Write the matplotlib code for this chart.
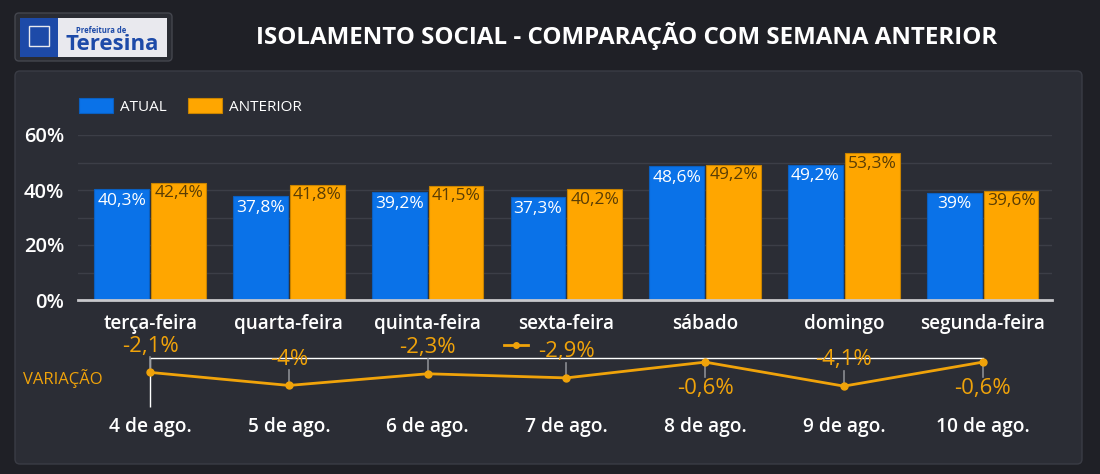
import numpy as np
import matplotlib.pyplot as plt
from matplotlib.patches import FancyBboxPatch, Rectangle
from matplotlib.lines import Line2D

plt.rcParams['font.family'] = ['Open Sans', 'DejaVu Sans']

# data
dias = ['terça-feira', 'quarta-feira', 'quinta-feira', 'sexta-feira', 'sábado', 'domingo', 'segunda-feira']
datas = ['4 de ago.', '5 de ago.', '6 de ago.', '7 de ago.', '8 de ago.', '9 de ago.', '10 de ago.']
atual = [40.3, 37.8, 39.2, 37.3, 48.6, 49.2, 39.0]
anterior = [42.4, 41.8, 41.5, 40.2, 49.2, 53.3, 39.6]
variacao = [-2.1, -4.0, -2.3, -2.9, -0.6, -4.1, -0.6]
yticks = [0, 20, 40, 60]

BG = '#1f2026'
PANEL = '#2b2d35'
BLUE = '#0a72e8'
ORANGE = '#ffa600'
LINE_OR = '#f0a30a'
W, H = 1100, 474


def fmt(v):
    s = ('%.1f' % v).rstrip('0').rstrip('.')
    return s.replace('.', ',') + '%'


fig = plt.figure(figsize=(W / 100, H / 100), dpi=100)
fig.patch.set_facecolor(BG)

# background layer in pixel coordinates
bg = fig.add_axes([0, 0, 1, 1], zorder=0)
bg.set_xlim(0, W)
bg.set_ylim(H, 0)
bg.axis('off')
bg.add_patch(FancyBboxPatch((15, 71), 1067, 393, boxstyle='round,pad=0,rounding_size=5',
                            fc=PANEL, ec='#3a3c45', lw=1))
# logo
bg.add_patch(FancyBboxPatch((15, 13), 157, 48, boxstyle='round,pad=0,rounding_size=4',
                            fc='#2a2c33', ec='#44464e', lw=1))
bg.add_patch(Rectangle((20, 18), 147, 39, fc='#e9e9ee', ec='none'))
bg.add_patch(Rectangle((20, 18), 38, 39, fc='#1d4aa8', ec='none'))
bg.add_patch(Rectangle((29, 26), 20, 20, fc='none', ec='#e9e9ee', lw=1))
bg.text(101, 30, 'Prefeitura de', color='#1d4aa8', fontsize=5.5, fontweight='bold', ha='center', va='center')
bg.text(112, 44, 'Teresina', color='#1d4aa8', fontsize=16, fontweight='bold', ha='center', va='center')
bg.text(627, 36, 'ISOLAMENTO SOCIAL - COMPARAÇÃO COM SEMANA ANTERIOR', color='white',
        fontsize=17.4, fontweight='bold', ha='center', va='center')
bg.text(23, 379, 'VARIAÇÃO', color=LINE_OR, fontsize=12, ha='left', va='center')

# bar chart
ax = fig.add_axes([78 / W, 174 / H, 974 / W, 165 / H], zorder=2)
ax.set_facecolor('none')
x = np.arange(len(dias))
bw = 0.395
off = 0.205
b1 = ax.bar(x - off, atual, bw, color=BLUE, edgecolor='#0a5fc0', lw=0.8, zorder=3, label='ATUAL')
b2 = ax.bar(x + off, anterior, bw, color=ORANGE, edgecolor='#c88300', lw=0.8, zorder=3, label='ANTERIOR')
for r, v in zip(b1, atual):
    ax.annotate(fmt(v), (r.get_x() + r.get_width() / 2, v), xytext=(0, -2.5), textcoords='offset points',
                ha='center', va='top', color='white', fontsize=12.5)
for r, v in zip(b2, anterior):
    ax.annotate(fmt(v), (r.get_x() + r.get_width() / 2, v), xytext=(0, -1.5), textcoords='offset points',
                ha='center', va='top', color='#5a3d05', fontsize=12.5)
ax.set_xlim(-0.52, 6.5)
ax.set_ylim(0, 60)
ax.set_yticks(yticks)
ax.set_yticklabels([f'{t}%' for t in yticks], color='white', fontsize=14.5, fontweight='semibold')
ax.set_yticks(np.arange(0, 61, 10), minor=True)
ax.grid(axis='y', which='both', color='#3c3e47', lw=1, zorder=0)
ax.set_xticks(x)
ax.set_xticklabels(dias, color='white', fontsize=13.6, fontweight='semibold')
ax.tick_params(axis='both', which='both', length=0)
ax.tick_params(axis='y', pad=10)
ax.tick_params(axis='x', pad=10)
for s in ['top', 'right', 'left']:
    ax.spines[s].set_visible(False)
ax.spines['bottom'].set_color('#c8c8cc')
ax.spines['bottom'].set_linewidth(2)
ax.spines['bottom'].set_zorder(4)
leg = ax.legend(loc='lower left', bbox_to_anchor=(-0.013, 1.04), ncol=2, frameon=False,
                handlelength=2.2, handleheight=1.15, columnspacing=1.45, handletextpad=0.45,
                fontsize=11)
for t in leg.get_texts():
    t.set_color('white')

# variation line
ax2 = fig.add_axes([78 / W, 64 / H, 974 / W, 70 / H], zorder=2)
ax2.set_facecolor('none')
ax2.set_xlim(-0.52, 6.5)
ppu = 6.86
ax2.set_ylim(-52 / ppu, 18 / ppu)
ax2.axis('off')
ax2.plot([0, len(x) - 1], [0, 0], color='white', lw=1, zorder=1)
ax2.vlines(0, -49 / ppu, 0, color='white', lw=1, zorder=1, clip_on=False)
ln, = ax2.plot(x, variacao, color=LINE_OR, lw=2, marker='o', ms=5, zorder=3)
for xi, v in zip(x, variacao):
    up = v < -1
    sgn = 1 if up else -1
    ax2.plot([xi, xi], [v, v + sgn * 15 / ppu], color='#8a8c92', lw=1.2, zorder=2)
    ax2.annotate(fmt(v), (xi, v), xytext=(0, sgn * 19), textcoords='offset points',
                 ha='center', va='center', color=LINE_OR, fontsize=16, zorder=4)
bg.legend(handles=[Line2D([], [], color=LINE_OR, lw=2, marker='o', ms=4)], labels=[''],
          loc='center', bbox_to_anchor=(516, 346), bbox_transform=bg.transData,
          frameon=False, handlelength=1.7, handletextpad=0, borderpad=0)

for xi, d in zip(x, datas):
    ax2.text(xi, -69 / ppu, d, color='white', fontsize=13.8, ha='center', va='center', fontweight='semibold')

fig.savefig('out.png', dpi=100, facecolor=BG)
